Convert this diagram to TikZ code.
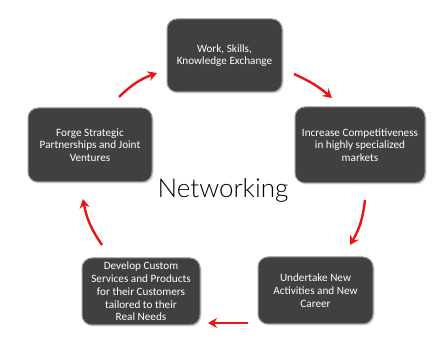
\documentclass[tikz,border=0pt]{standalone}
\usepackage{fontspec}
\setmainfont{Carlito}
\newfontfamily\netfont{Lato Light}
\usetikzlibrary{arrows.meta,shadows}
\definecolor{boxgray}{RGB}{64,64,64}
\definecolor{rimgray}{RGB}{150,150,150}
\definecolor{arrowred}{RGB}{235,20,20}
\begin{document}
\begin{tikzpicture}[x=1pt,y=-1pt,
  stagebox/.style={draw=rimgray, line width=1pt, fill=boxgray, rounded corners=10pt,
    inner sep=0pt, align=center, text=white,
    font=\fontsize{11.2}{12.8}\selectfont,
    drop shadow={opacity=0.3, shadow xshift=1.5pt, shadow yshift=-1.5pt}},
  cyclearrow/.style={draw=arrowred, line width=2.4pt,
    -{Stealth[length=9pt,width=10pt,inset=3pt]}}]
\useasboundingbox (0,0) rectangle (445,358);
\node[stagebox, minimum width=115pt, minimum height=73pt] (work) at (224.5,55.5)
  {Work, Skills,\\Knowledge Exchange};
\node[stagebox, minimum width=130pt, minimum height=76pt] (comp) at (360,145)
  {Increase Competitiveness\\in highly specialized\\markets};
\node[stagebox, minimum width=115pt, minimum height=67pt] (under) at (315.5,290.5)
  {Undertake New\\Activities and New\\Career};
\node[stagebox, minimum width=118pt, minimum height=67pt] (dev) at (141,291.5)
  {Develop Custom\\Services and Products\\for their Customers\\tailored to their\\Real Needs};
\node[stagebox, minimum width=124pt, minimum height=74pt] (forge) at (90,145)
  {Forge Strategic\\Partnerships and Joint\\Ventures};
\node[font=\netfont\fontsize{26}{28}\selectfont, inner sep=0pt] (net) at (223,190) {Networking};
\coordinate (a1s) at (119,97);  \coordinate (a1e) at (157,73);
\coordinate (a2s) at (294,74);  \coordinate (a2e) at (332,98);
\coordinate (a3s) at (365,200); \coordinate (a3e) at (350,245);
\coordinate (a4s) at (248,323); \coordinate (a4e) at (208,323);
\coordinate (a5s) at (102,245); \coordinate (a5e) at (83,199);
\draw[cyclearrow] (a1s) to[bend left=12] (a1e);
\draw[cyclearrow] (a2s) to[bend left=8] (a2e);
\draw[cyclearrow] (a3s) to[bend left=12] (a3e);
\draw[cyclearrow] (a4s) -- (a4e);
\draw[cyclearrow] (a5s) to[bend left=12] (a5e);
\end{tikzpicture}
\end{document}
